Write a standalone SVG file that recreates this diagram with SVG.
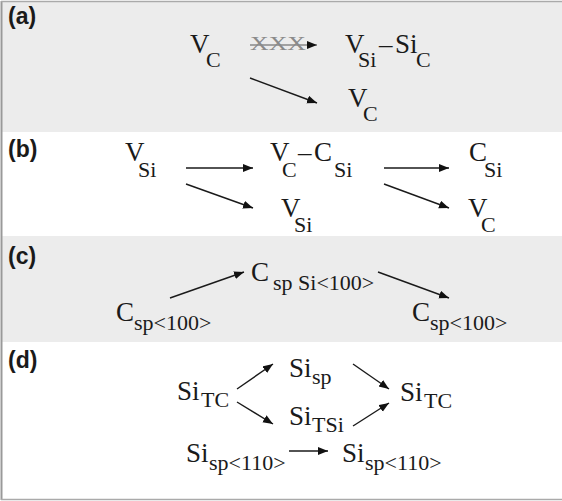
<svg xmlns="http://www.w3.org/2000/svg" width="562" height="501" viewBox="0 0 562 501">
<style>
.bg{fill:#ececec}
.lbl{font-family:"Liberation Sans",Arial,sans-serif;font-weight:bold;font-size:23px;fill:#1a1a1a}
.m{font-family:"Liberation Serif","Times New Roman",serif;font-size:27px;fill:#1a1a1a}
.s{font-size:22px}
.a{stroke:#1a1a1a;stroke-width:1.4;fill:none;marker-end:url(#ah)}
.ag{stroke:#888;stroke-width:1.6;fill:none;marker-end:url(#ah)}
.x{font-family:"Liberation Serif","Times New Roman",serif;font-size:19px;fill:#8a8a8a}
</style>
<defs>
<marker id="ah" markerUnits="userSpaceOnUse" markerWidth="12" markerHeight="10" refX="10" refY="4" orient="auto">
<path d="M0,0 L10,4 L0,8 Z" fill="#111"/>
</marker>
</defs>
<rect x="0" y="0" width="562" height="501" fill="#fff"/>
<g id="panels">
<rect class="bg" x="2" y="2" width="560" height="130"/>
<rect class="bg" x="2" y="236" width="560" height="106"/>
<line x1="1.5" y1="1" x2="1.5" y2="500" stroke="#999" stroke-width="2"/>
<line x1="1" y1="1.5" x2="562" y2="1.5" stroke="#aaa" stroke-width="1.5"/>
<line x1="1" y1="499.5" x2="562" y2="499.5" stroke="#aaa" stroke-width="1.5"/>
</g>
<g id="labels">
<text class="lbl" x="8" y="24">(a)</text>
<text class="lbl" x="8" y="157">(b)</text>
<text class="lbl" x="8" y="264">(c)</text>
<text class="lbl" x="8" y="368">(d)</text>
</g>
<g id="a-VC"><text class="m" x="190" y="53">V<tspan class="s" x="206" y="67">C</tspan></text></g>
<g id="a-VSiSiC"><text class="m" x="345" y="53">V<tspan class="s" x="358" y="67">Si</tspan><tspan x="379" y="53">–</tspan><tspan x="395" y="53">Si</tspan><tspan class="s" x="416" y="67">C</tspan></text></g>
<g id="a-VC2"><text class="m" x="348" y="107">V<tspan class="s" x="363" y="121">C</tspan></text></g>
<g id="b-VSi"><text class="m" x="125" y="161">V<tspan class="s" x="138" y="177">Si</tspan></text></g>
<g id="b-VCCSi"><text class="m" x="270" y="161">V<tspan class="s" x="282" y="177">C</tspan><tspan x="298" y="161">–</tspan><tspan x="314" y="161">C</tspan><tspan class="s" x="334" y="177">Si</tspan></text></g>
<g id="b-CSi"><text class="m" x="469" y="161">C<tspan class="s" x="484" y="177">Si</tspan></text></g>
<g id="b-VSi2"><text class="m" x="281" y="217">V<tspan class="s" x="294" y="232">Si</tspan></text></g>
<g id="b-VC2"><text class="m" x="468" y="217">V<tspan class="s" x="481" y="232">C</tspan></text></g>
<g id="c-C1"><text class="m" x="116" y="321">C<tspan class="s" x="134" y="330">sp&lt;100&gt;</tspan></text></g>
<g id="c-C2"><text class="m" x="251" y="281">C<tspan class="s" x="273" y="290">sp Si&lt;100&gt;</tspan></text></g>
<g id="c-C3"><text class="m" x="412" y="321">C<tspan class="s" x="430" y="330">sp&lt;100&gt;</tspan></text></g>
<g id="d-SiTC1"><text class="m" x="177" y="400">Si<tspan class="s" x="201" y="407">TC</tspan></text></g>
<g id="d-Sisp"><text class="m" x="289" y="377">Si<tspan class="s" x="312" y="384">sp</tspan></text></g>
<g id="d-SiTSi"><text class="m" x="289" y="425">Si<tspan class="s" x="312" y="432">TSi</tspan></text></g>
<g id="d-SiTC2"><text class="m" x="400" y="401">Si<tspan class="s" x="424" y="408">TC</tspan></text></g>
<g id="d-Sisp110a"><text class="m" x="186" y="462">Si<tspan class="s" x="209" y="470">sp&lt;110&gt;</tspan></text></g>
<g id="d-Sisp110b"><text class="m" x="342" y="462">Si<tspan class="s" x="365" y="470">sp&lt;110&gt;</tspan></text></g>
<g id="connectors">
<line class="ag" x1="250" y1="45" x2="317" y2="45"/>
<text class="x" x="250" y="50" textLength="56" lengthAdjust="spacingAndGlyphs">XXX</text>
<line class="a" x1="250" y1="78" x2="317" y2="103"/>
<line class="a" x1="186" y1="168" x2="253" y2="168"/>
<line class="a" x1="186" y1="184" x2="253" y2="208"/>
<line class="a" x1="384" y1="168" x2="449" y2="168"/>
<line class="a" x1="384" y1="184" x2="449" y2="208"/>
<line class="a" x1="170" y1="298" x2="244" y2="272"/>
<line class="a" x1="378" y1="272" x2="449" y2="298"/>
<line class="a" x1="237" y1="389" x2="273" y2="364"/>
<line class="a" x1="237" y1="402" x2="273" y2="424"/>
<line class="a" x1="353" y1="364" x2="389" y2="389"/>
<line class="a" x1="353" y1="426" x2="389" y2="403"/>
<line class="a" x1="289" y1="451" x2="328" y2="451"/>
</g>
</svg>
